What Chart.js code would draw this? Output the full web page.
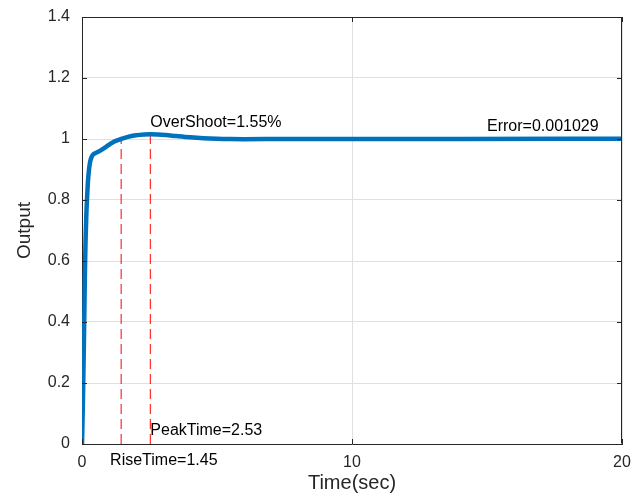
<!DOCTYPE html>
<html>
<head>
<meta charset="utf-8">
<script src="https://cdn.jsdelivr.net/npm/chart.js@4/dist/chart.umd.min.js"></script>
<style>
html,body{margin:0;padding:0;background:#fff;}
#wrap{width:642px;height:496px;position:relative;}
</style>
</head>
<body>
<div id="wrap"><canvas id="c" width="642" height="496"></canvas></div>
<script>
// Step response data (time in sec, output)
const timeData = [0, 0.03, 0.05, 0.07, 0.09, 0.11, 0.13, 0.16, 0.19, 0.22, 0.26, 0.30, 0.35, 0.42, 0.5, 0.6, 0.75, 0.9, 1.05, 1.2, 1.45, 1.7, 2.0, 2.3, 2.53, 2.8, 3.1, 3.5, 4.0, 4.5, 5.0, 5.5, 6.0, 7.0, 8.0, 10, 14, 20];
const outputData = [0, 0.12, 0.22, 0.33, 0.45, 0.57, 0.66, 0.75, 0.81, 0.86, 0.90, 0.925, 0.94, 0.95, 0.954, 0.958, 0.966, 0.975, 0.984, 0.992, 1.0, 1.007, 1.012, 1.0148, 1.0155, 1.0148, 1.013, 1.0095, 1.0055, 1.0025, 1.0007, 0.9998, 0.9995, 0.9997, 1.0, 1.0, 1.0, 1.001];

// Markers
const riseTime = 1.45;
const riseValue = 1.0;
const peakTime = 2.53;
const peakValue = 1.0155;

// Axis ticks
const xTicks = [0, 10, 20];
const yTicks = [0, 0.2, 0.4, 0.6, 0.8, 1, 1.2, 1.4];

// Annotations (data coordinates)
const annoTexts = ["OverShoot=1.55%", "Error=0.001029", "PeakTime=2.53", "RiseTime=1.45"];
const annoX = [2.53, 15.0, 2.53, 1.04];
const annoY = [1.039, 1.026, 0.03, -0.069];

const ink = '#262626';
const FONT = '"Liberation Sans", Arial, Helvetica, sans-serif';

const series = timeData.map((t, i) => ({x: t, y: outputData[i]}));

const boxPlugin = {
  id: 'boxPlugin',
  afterDraw(chart) {
    const ctx = chart.ctx;
    const a = chart.chartArea;
    const xs = chart.scales.x, ys = chart.scales.y;
    ctx.save();
    ctx.strokeStyle = ink;
    ctx.lineWidth = 1;
    ctx.beginPath();
    ctx.moveTo(a.left + 0.5, a.top + 0.5);
    ctx.lineTo(a.right - 0.5, a.top + 0.5);
    ctx.lineTo(a.right - 0.5, a.bottom - 0.5);
    ctx.stroke();
    const tl = 5;
    ctx.beginPath();
    yTicks.forEach(v => {
      const py = Math.round(ys.getPixelForValue(v)) + 0.5;
      ctx.moveTo(a.left, py); ctx.lineTo(a.left + tl, py);
      ctx.moveTo(a.right, py); ctx.lineTo(a.right - tl, py);
    });
    xTicks.forEach(v => {
      const px = Math.round(xs.getPixelForValue(v)) + 0.5;
      ctx.moveTo(px, a.bottom); ctx.lineTo(px, a.bottom - tl);
      ctx.moveTo(px, a.top); ctx.lineTo(px, a.top + tl);
    });
    ctx.stroke();
    // annotations
    ctx.fillStyle = '#000';
    ctx.font = '16px ' + FONT;
    ctx.textAlign = 'left';
    ctx.textBaseline = 'alphabetic';
    annoTexts.forEach((t, i) => {
      ctx.fillText(t, xs.getPixelForValue(annoX[i]), ys.getPixelForValue(annoY[i]));
    });
    ctx.restore();
  }
};

new Chart(document.getElementById('c'), {
  type: 'line',
  data: {
    datasets: [
      {
        data: series,
        borderColor: '#0072BD',
        borderWidth: 4.5,
        pointRadius: 0,
        cubicInterpolationMode: 'monotone',
        fill: false,
        borderCapStyle: 'round',
        borderJoinStyle: 'round',
        order: 0
      },
      {
        data: [{x: riseTime, y: 0}, {x: riseTime, y: riseValue}],
        borderColor: '#ff0000',
        borderWidth: 1,
        borderDash: [10, 5],
        pointRadius: 0,
        fill: false,
        order: 1
      },
      {
        data: [{x: peakTime, y: 0}, {x: peakTime, y: peakValue}],
        borderColor: '#ff0000',
        borderWidth: 1,
        borderDash: [10, 5],
        pointRadius: 0,
        fill: false,
        order: 1
      }
    ]
  },
  options: {
    responsive: false,
    animation: false,
    devicePixelRatio: 1,
    layout: {padding: {top: 17, right: 20, left: 0, bottom: 0}},
    plugins: {legend: {display: false}, tooltip: {enabled: false}},
    scales: {
      x: {
        type: 'linear',
        min: 0, max: 20,
        afterBuildTicks: s => { s.ticks = xTicks.map(v => ({value: v})); },
        afterFit: s => { s.height = 52; s.paddingLeft = 0; s.paddingRight = 0; },
        ticks: {color: ink, font: {family: FONT, size: 16}, padding: 9, maxRotation: 0},
        grid: {color: '#e0e0e0', drawTicks: false},
        border: {display: true, color: ink, width: 1},
        title: {display: true, text: 'Time(sec)', color: ink, font: {family: FONT, size: 20}, padding: {top: 0, bottom: 1}}
      },
      y: {
        type: 'linear',
        min: 0, max: 1.4,
        afterBuildTicks: s => { s.ticks = yTicks.map(v => ({value: v})); },
        afterFit: s => { s.width = 82; s.paddingTop = 0; s.paddingBottom = 0; },
        ticks: {color: ink, font: {family: FONT, size: 16}, padding: 12, callback: v => String(Math.round(v * 10) / 10)},
        grid: {color: '#e0e0e0', drawTicks: false},
        border: {display: true, color: ink, width: 1},
        title: {display: true, text: 'Output', color: ink, font: {family: FONT, size: 19}, padding: {top: 13, bottom: 0}}
      }
    }
  },
  plugins: [boxPlugin]
});
</script>
</body>
</html>
